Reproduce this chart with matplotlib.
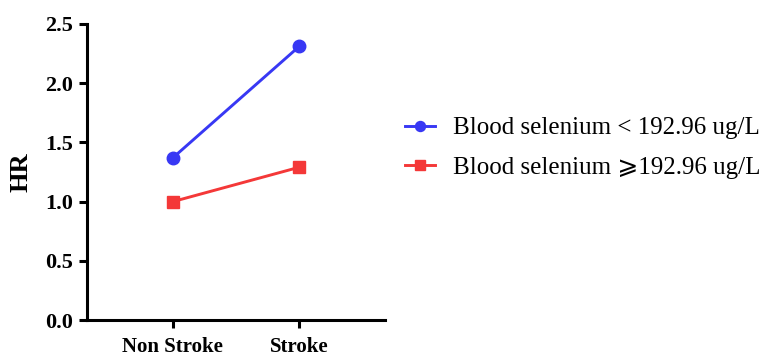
import matplotlib
matplotlib.use("Agg")
import matplotlib.pyplot as plt

# data
groups = ["Non Stroke", "Stroke"]
hr_low = [1.37, 2.31]
hr_high = [1.00, 1.29]
labels = ["Blood selenium < 192.96 ug/L", "Blood selenium \u2a7e192.96 ug/L"]
yticks = [0.0, 0.5, 1.0, 1.5, 2.0, 2.5]

plt.rcParams['font.family'] = ['Liberation Serif', 'DejaVu Sans']

fig = plt.figure(figsize=(7.64, 3.58), dpi=100)
ax = fig.add_axes([0.1139, 0.1061, 0.39, 0.8269])

x = list(range(len(groups)))
ax.plot(x, hr_low, color='#3838f4', lw=2.1, marker='o', ms=9, label=labels[0])
ax.plot(x, hr_high, color='#f43838', lw=2.1, marker='s', ms=8.5, label=labels[1])

ax.set_xlim(-0.68, 1.68)
ax.set_ylim(0, 2.5)
ax.set_xticks(x)
ax.set_xticklabels(groups, fontsize=15, fontweight='bold')
ax.set_yticks(yticks)
ax.set_yticklabels(["%.1f" % v for v in yticks], fontsize=16, fontweight='bold')
ax.set_ylabel("HR", fontsize=19, fontweight='bold', labelpad=9)

for s in ['top', 'right']:
    ax.spines[s].set_visible(False)
for s in ['left', 'bottom']:
    ax.spines[s].set_linewidth(2.2)
ax.tick_params(width=2.2, length=6)
ax.tick_params(axis='x', pad=6.5)
ax.tick_params(axis='y', pad=4)

fig.legend(loc='center left', bbox_to_anchor=(0.5, 0.587), frameon=False,
           fontsize=18, handlelength=1.2, handletextpad=0.74, labelspacing=0.68,
           markerscale=0.8)

fig.savefig("out.png", dpi=100)
